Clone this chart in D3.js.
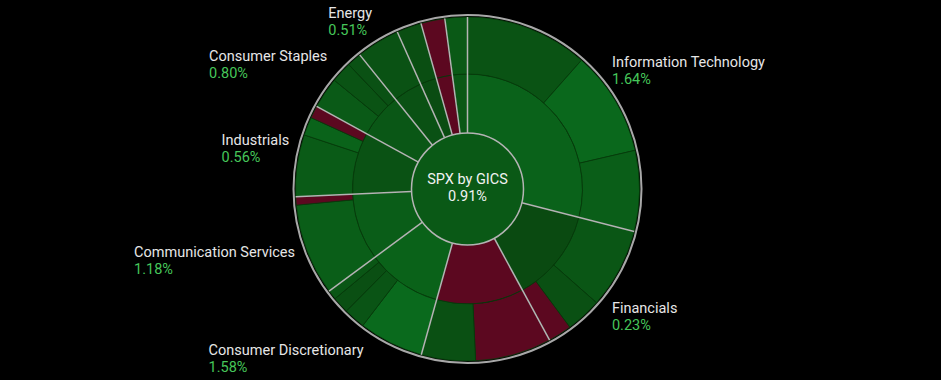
<!DOCTYPE html>
<meta charset="utf-8">
<body style="margin:0;background:#000">

<svg width="941" height="380"></svg>

<script src="https://cdn.jsdelivr.net/npm/d3@7"></script>

<script>

    // sectors of the index, in drawing order (clockwise from 12 o'clock)
    var sectors = ["Information Technology", "Financials", "Health Care", "Consumer Discretionary",
        "Communication Services", "Industrials", "Consumer Staples", "Energy", "Utilities",
        "Real Estate", "Materials"];
    var sectorChange = [1.64, 0.23, -0.52, 1.58, 1.18, 0.56, 0.80, 0.51, 0.30, -0.60, 0.90];

    // constituents: sector index, index weight (%), daily change (%)
    var stockSector = [0, 0, 0, 1, 1, 1, 2, 2, 3, 3, 3, 3, 4, 4, 5, 5, 5, 6, 6, 6, 7, 8, 9, 10];
    var stockWeight = [11.53, 9.86, 7.58, 7.53, 3.36, 2.22, 7.17, 5.08, 6.08, 2.03, 1.56, 0.89,
        8.61, 0.78, 5.81, 1.72, 1.17, 2.92, 1.97, 1.36, 4.08, 2.33, 2.25, 2.11];
    var stockChange = [0.6, 2.2, 1.3, 0.75, 0.45, -0.8, -1.2, 0.45, 2.4, 0.65, 0.4, 0.75,
        1.3, -0.5, 1.05, 1.7, -1.5, 1.0, 0.6, 0.5, 0.55, 0.35, -0.6, 0.95];

    var indexName = "SPX by GICS",
        indexChange = 0.91;

    var svg = d3.select("svg");
    var cx = 467.5, cy = 189;
    var r0 = 56, r1 = 115, r2 = 172;

    var chart = svg.append("g")
        .attr("transform", "translate(" + cx + "," + cy + ")");

    // build the hierarchy
    var tree = {
        name: indexName, change: indexChange,
        children: sectors.map(function (s, i) {
            return {name: s, change: sectorChange[i], children: []};
        })
    };
    stockWeight.forEach(function (w, i) {
        tree.children[stockSector[i]].children.push({weight: w, change: stockChange[i]});
    });

    var root = d3.hierarchy(tree).sum(function (d) { return d.weight || 0; });
    d3.partition().size([2 * Math.PI, 3])(root);

    var radii = [[0, r0], [r0, r1], [r1, r2]];

    var green = d3.scalePow().exponent(0.5)
        .domain([0, 3.5])
        .range(["#0a3c0c", "#0a7420"])
        .clamp(true);
    function fill(v) {
        return v < 0 ? "#5c0820" : green(v);
    }

    var arc = d3.arc()
        .startAngle(function (d) { return d.x0; })
        .endAngle(function (d) { return d.x1; })
        .innerRadius(function (d) { return radii[d.depth][0]; })
        .outerRadius(function (d) { return radii[d.depth][1]; });

    chart.selectAll(".seg")
        .data(root.descendants().filter(function (d) { return d.depth > 0; }))
        .enter().append("path")
        .attr("class", "seg")
        .attr("d", arc)
        .attr("fill", function (d) { return fill(d.data.change); })
        .attr("stroke", "#063a0a")
        .attr("stroke-width", 0.8);

    // sector borders
    chart.selectAll(".border")
        .data(root.children)
        .enter().append("line")
        .attr("x1", function (d) { return r0 * Math.sin(d.x0); })
        .attr("y1", function (d) { return -r0 * Math.cos(d.x0); })
        .attr("x2", function (d) { return r2 * Math.sin(d.x0); })
        .attr("y2", function (d) { return -r2 * Math.cos(d.x0); })
        .attr("stroke", "#b4b4b4")
        .attr("stroke-width", 1.5);

    // outer ring
    chart.append("circle")
        .attr("r", r2 + 2)
        .attr("fill", "none")
        .attr("stroke", "#a8a8a8")
        .attr("stroke-width", 2);

    // centre
    chart.append("circle")
        .attr("r", r0)
        .attr("fill", fill(indexChange))
        .attr("stroke", "#b4b4b4")
        .attr("stroke-width", 1.5);

    chart.append("text")
        .attr("text-anchor", "middle")
        .attr("y", -5)
        .style("font", "14.5px Roboto")
        .style("fill", "#f2f2f2")
        .text(indexName);
    chart.append("text")
        .attr("text-anchor", "middle")
        .attr("y", 12)
        .style("font", "14.5px Roboto")
        .style("fill", "#f2f2f2")
        .text(indexChange.toFixed(2) + "%");

    // sector labels for the bigger advancing sectors
    var Rx = 183, Ry = 201;
    root.children
        .filter(function (d) { return d.data.change > 0 && d.value > 3; })
        .forEach(function (d) {
            var a = (d.x0 + d.x1) / 2,
                px = Rx * Math.sin(a),
                py = -Ry * Math.cos(a) + 1;
            var g = chart.append("g");
            var name = g.append("text")
                .style("font", "14.5px Roboto")
                .style("fill", "#e6e6e6")
                .text(d.data.name);
            g.append("text")
                .attr("y", 17)
                .style("font", "14.5px Roboto")
                .style("fill", "#46c65a")
                .text(d.data.change.toFixed(2) + "%");
            var w = name.node().getComputedTextLength();
            var x = Math.sin(a) >= 0 ? px : px - w;
            g.attr("transform", "translate(" + x + "," + py + ")");
        });

</script>
</body>
